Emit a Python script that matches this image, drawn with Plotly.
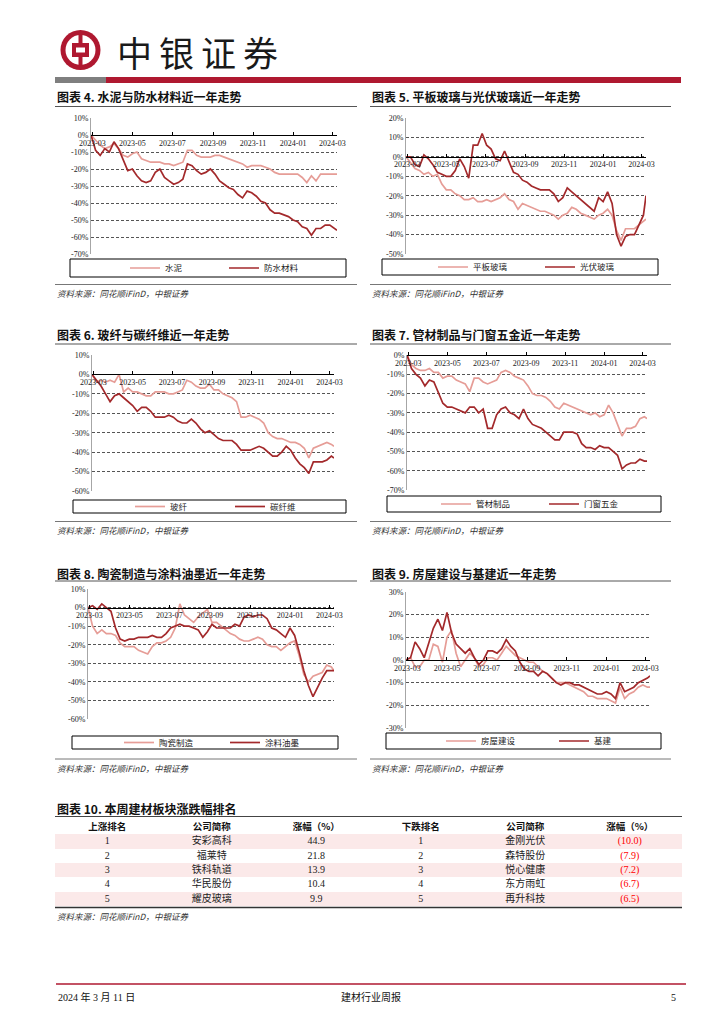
import pandas as pd
import plotly.graph_objects as go

# page is drawn in the 724x1024 reference pixel frame; the browser body adds an 8px margin
OFF = 8
W, H = 724 - OFF, 1024 - OFF
def px(x): return (x - OFF) / W
def py(y): return 1 - (y - OFF) / H

# ---------------- data ----------------
dates = list(pd.date_range('2023-02-27', periods=54, freq='7D').strftime('%Y-%m-%d')) + ['2024-03-08']
x_tickvals = ['2023-03-01', '2023-05-01', '2023-07-01', '2023-09-01', '2023-11-01', '2024-01-01', '2024-03-01']
x_ticklabels = ['2023-03', '2023-05', '2023-07', '2023-09', '2023-11', '2024-01', '2024-03']

cement = [0, -3, -6, -8, -7, -5, -8, -12, -13, -11,
          -10, -14, -15, -16, -16, -16, -17, -17, -18, -17,
          -16, -9, -9, -12, -13, -13, -13, -12, -12, -13,
          -14, -15, -16, -17, -19, -18, -18, -18, -19, -20,
          -22, -23, -23, -23, -23, -23, -25, -28, -24, -27,
          -23, -23, -23, -23, -23]
waterproof = [0, -9, -12, -8, -10, -4, -8, -15, -21, -20,
              -24, -27, -28, -27, -22, -20, -25, -27, -29, -28,
              -26, -17, -18, -21, -23, -22, -20, -23, -27, -29,
              -31, -32, -35, -37, -33, -34, -36, -39, -40, -44,
              -46, -46, -47, -48, -50, -51, -54, -55, -59, -55,
              -55, -53, -53, -55, -56]
flat_glass = [0, -3, -6, -7, -9, -8, -10, -9, -14, -17,
              -17, -19, -20, -22, -22, -21, -23, -23, -22, -23,
              -22, -21, -19, -22, -23, -27, -24, -25, -26, -27,
              -28, -28, -29, -30, -32, -30, -29, -26, -27, -29,
              -30, -31, -32, -30, -29, -27, -30, -38, -43, -37,
              -37, -37, -35, -33, -32]
pv_glass = [0, 0, -4, -5, 1, -1, -4, -8, -9, -10,
            -10, -7, -1, -5, -11, 6, 6, 12, 6, 4,
            -1, -2, 3, -3, -8, -9, -12, -13, -15, -16,
            -17, -17, -17, -19, -23, -21, -16, -18, -20, -22,
            -24, -26, -28, -21, -23, -18, -24, -40, -46, -41,
            -40, -40, -35, -30, -20]
glass_fiber = [0, -4, -3, -4, -3, -4, 0, -9, -7, -9,
               -9, -10, -11, -11, -9, -9, -9, -10, -10, -9,
               -8, -3, -4, -6, -7, -7, -5, -8, -8, -10,
               -11, -12, -14, -22, -22, -21, -22, -23, -25, -30,
               -32, -33, -33, -34, -35, -35, -36, -38, -43, -38,
               -37, -36, -35, -36, -37]
carbon_fiber = [0, -3, -6, -10, -14, -11, -10, -12, -14, -16,
                -19, -17, -17, -19, -22, -22, -22, -21, -22, -24,
                -25, -25, -23, -25, -28, -30, -29, -31, -33, -34,
                -34, -34, -36, -39, -39, -39, -38, -37, -38, -40,
                -42, -42, -40, -37, -39, -43, -46, -48, -51, -45,
                -45, -45, -44, -42, -43]
pipe = [0, -5, -7, -8, -8, -7, -9, -9, -12, -11,
        -11, -13, -14, -15, -19, -12, -12, -14, -15, -14,
        -13, -9, -8, -9, -11, -12, -13, -16, -20, -21,
        -21, -22, -24, -27, -28, -25, -26, -27, -28, -29,
        -30, -31, -30, -32, -31, -26, -30, -36, -42, -38,
        -38, -37, -33, -32, -33]
hardware = [0, -7, -10, -12, -16, -13, -14, -20, -25, -27,
            -27, -28, -29, -30, -27, -27, -30, -28, -38, -38,
            -31, -28, -27, -30, -31, -33, -28, -33, -36, -37,
            -38, -40, -42, -44, -44, -40, -40, -40, -41, -46,
            -48, -48, -49, -47, -48, -48, -50, -52, -59, -57,
            -56, -56, -54, -55, -55]
ceramic = [0, -10, -14, -12, -14, -14, -15, -19, -21, -21,
           -21, -23, -24, -25, -21, -19, -19, -18, -16, -11,
           2, -4, -6, -8, -5, -3, -1, -8, -8, -10,
           -12, -14, -15, -17, -18, -18, -17, -16, -17, -20,
           -21, -21, -23, -21, -19, -18, -26, -36, -40, -37,
           -36, -35, -31, -32, -34]
coating = [0, 1, -1, 2, 0, -2, -11, -17, -18, -17,
           -17, -16, -16, -16, -15, -16, -16, -14, -11, -10,
           -9, -10, -10, -11, -12, -16, -13, -9, -11, -11,
           -11, -11, -9, -10, -5, -4, -5, -4, -4, -6,
           -11, -12, -14, -16, -11, -15, -24, -34, -42, -48,
           -43, -38, -34, -34, -34]
housing = [0, 1, -3, -3, 0, 0, 7, 6, -1, 10,
           13, 3, -3, 0, 3, 1, -3, -2, 1, 1,
           0, 3, 6, 4, 2, 1, 0, -1, -1, -3,
           -5, -6, -8, -10, -10, -10, -11, -12, -13, -14,
           -16, -16, -17, -17, -17, -18, -19, -12, -17, -15,
           -14, -12, -11, -12, -12]
infra = [0, 1, 8, 5, 1, 7, 14, 18, 13, 21,
         12, 7, 5, 3, 5, 1, -2, 0, 4, 4,
         3, 5, 9, 6, 4, -1, -4, -5, -5, -7,
         -5, -6, -8, -10, -11, -10, -10, -11, -11, -12,
         -13, -14, -15, -15, -14, -15, -17, -10, -14, -13,
         -12, -10, -9, -8, -7]

chart_titles = ['图表 4. 水泥与防水材料近一年走势', '图表 5. 平板玻璃与光伏玻璃近一年走势',
                '图表 6. 玻纤与碳纤维近一年走势', '图表 7. 管材制品与门窗五金近一年走势',
                '图表 8. 陶瓷制造与涂料油墨近一年走势', '图表 9. 房屋建设与基建近一年走势']
series_names = [('水泥', '防水材料'), ('平板玻璃', '光伏玻璃'), ('玻纤', '碳纤维'),
                ('管材制品', '门窗五金'), ('陶瓷制造', '涂料油墨'), ('房屋建设', '基建')]
series_data = [(cement, waterproof), (flat_glass, pv_glass), (glass_fiber, carbon_fiber),
               (pipe, hardware), (ceramic, coating), (housing, infra)]
y_ranges = [(-70, 10), (-50, 20), (-60, 10), (-70, 0), (-60, 10), (-30, 30)]
source_text = '资料来源：同花顺iFinD，中银证券'

table_title = '图表 10. 本周建材板块涨跌幅排名'
table_headers = ['上涨排名', '公司简称', '涨幅（%）', '下跌排名', '公司简称', '涨幅（%）']
up_rank = [1, 2, 3, 4, 5]
up_name = ['安彩高科', '福莱特', '铁科轨道', '华民股份', '耀皮玻璃']
up_pct = [44.9, 21.8, 13.9, 10.4, 9.9]
down_rank = [1, 2, 3, 4, 5]
down_name = ['金刚光伏', '森特股份', '悦心健康', '东方雨虹', '再升科技']
down_pct = [-10.0, -7.9, -7.2, -6.7, -6.5]

brand = '中银证券'
footer_date = '2024 年 3 月 11 日'
footer_title = '建材行业周报'
page_no = '5'

# ---------------- layout geometry ----------------
LIGHT = '#E69D97'
DARK = '#A3292B'
RED = '#AF1830'
CJK = 'Noto Sans CJK SC'
SERIF = 'Liberation Serif, Noto Sans CJK SC'

boxes = [(91, 337, 118, 254), (406, 646, 118, 254),
         (92, 334, 355, 491), (407, 647, 355, 490),
         (88, 334, 589, 719), (406, 650, 592, 728)]
leg_boxes = [(70, 346, 259, 277), (382, 658, 259, 275),
             (73, 346, 500, 513), (387, 661, 496, 512),
             (72, 338, 736, 749), (386, 661, 733, 749)]
leg_items = [(126, 99), (434, 107), (131, 100), (437, 108), (120, 106), (442, 113)]
title_y = [97, 97, 334, 334, 573, 573]
title_line_y = [106.5, 106.5, 344, 344, 581, 581]
src_line_y = [284.5, 284.5, 521.5, 521.5, 759, 759]
src_y = [293, 293, 530, 530, 768, 768]
col_x = [(55, 357), (370, 671)] * 3

fig = go.Figure()
layout = dict(template='none', width=W, height=H, margin=dict(l=0, r=0, t=0, b=0, pad=0, autoexpand=False),
              paper_bgcolor='white', plot_bgcolor='rgba(0,0,0,0)', showlegend=True,
              font=dict(family=CJK, color='#222'))
shapes = []
annotations = []

def hline(x0, x1, y, color, width):
    shapes.append(dict(type='line', xref='paper', yref='paper', x0=px(x0), x1=px(x1),
                       y0=py(y), y1=py(y), line=dict(color=color, width=width), layer='above'))

def text(x, y, s, size, family=CJK, color='#111', anchor='left', weight='normal', style='normal'):
    annotations.append(dict(xref='paper', yref='paper', x=px(x), y=py(y), text=s, showarrow=False,
                            xanchor=anchor, yanchor='middle',
                            font=dict(family=family, size=size, color=color, weight=weight, style=style)))

ENTRY_CONST = 45
for k in range(6):
    n = '' if k == 0 else str(k + 1)
    l, r, t, b = boxes[k]
    ymin, ymax = y_ranges[k]
    zero_px = t + (ymax - 0) / (ymax - ymin) * (b - t)
    legname = 'legend' + n
    for j, (nm, vals, col) in enumerate([(series_names[k][0], series_data[k][0], LIGHT),
                                          (series_names[k][1], series_data[k][1], DARK)]):
        fig.add_trace(go.Scatter(x=dates, y=vals, name=nm, mode='lines',
                                 line=dict(color=col, width=1.7),
                                 xaxis='x' + n, yaxis='y' + n, legend=legname,
                                 hoverinfo='skip'))
    yt = list(range(ymin, ymax + 1, 10))
    layout['xaxis' + n] = dict(domain=[px(l), px(r)], anchor='free', position=py(zero_px),
                               type='date', range=[dates[0], dates[-1]], automargin=False,
                               tickvals=x_tickvals, ticktext=x_ticklabels,
                               ticks='inside', ticklen=3, tickcolor='#000', tickwidth=1,
                               showline=True, linecolor='#000', linewidth=1, showgrid=False,
                               zeroline=False, fixedrange=True,
                               tickfont=dict(family='Liberation Serif', size=8, color='#222'))
    layout['yaxis' + n] = dict(domain=[py(b), py(t)], anchor='x' + n, range=[ymin, ymax],
                               automargin=False, fixedrange=True,
                               tickvals=yt, ticktext=[f'{v}%' for v in yt],
                               showline=True, linecolor='#A6A6A6', linewidth=1,
                               showgrid=True, gridcolor='#555555', gridwidth=1, griddash='3px,2px',
                               zeroline=False, ticks='',
                               tickfont=dict(family='Liberation Serif', size=8, color='#222'))
    lx0, lx1, ly0, ly1 = leg_boxes[k]
    shapes.append(dict(type='rect', xref='paper', yref='paper', x0=px(lx0), x1=px(lx1),
                       y0=py(ly1), y1=py(ly0), line=dict(color='#000', width=1)))
    istart, step = leg_items[k]
    layout[legname] = dict(x=px(istart - 1), y=py((ly0 + ly1) / 2), xanchor='left', yanchor='middle',
                           orientation='h', bgcolor='rgba(0,0,0,0)', borderwidth=0,
                           entrywidth=step - ENTRY_CONST, entrywidthmode='pixels',
                           font=dict(family=CJK, size=8.5, color='#222'))
    cx0, cx1 = col_x[k]
    text(cx0, title_y[k], chart_titles[k], 12, weight='bold', color='#111')
    hline(cx0, cx1, title_line_y[k], '#555', 1)
    hline(cx0, cx1, src_line_y[k], '#777', 1)
    text(cx0, src_y[k], source_text, 8.5, color='#333', style='italic')

# ---------------- table (drawn on its own categorical axes) ----------------
text(55, 808, table_title, 12, weight='bold')
hline(55, 682, 816.5, '#444', 1.2)
hline(55, 682, 907.4, '#333', 1.5)
text(55, 916, source_text, 8.5, color='#333', style='italic')
PINK = '#FBE9E9'
n_rows = len(up_rank)
n_cols = len(table_headers)
row_idx = list(range(n_rows))
band_z = [[0] * n_cols] + [[1 - (i % 2)] * n_cols for i in row_idx]
fig.add_trace(go.Heatmap(z=band_z, x=list(range(n_cols)), y=[-1] + row_idx,
                         colorscale=[[0, 'white'], [1, PINK]], zmin=0, zmax=1, showscale=False,
                         xaxis='x7', yaxis='y7', hoverinfo='skip', showlegend=False))
columns = [[str(v) for v in up_rank], up_name, [f'{v:.1f}' for v in up_pct],
           [str(v) for v in down_rank], down_name, [f'({abs(v):.1f})' for v in down_pct]]
col_colors = ['#222'] * 5 + ['#FF0000']
for c, vals in enumerate(columns):
    fig.add_trace(go.Scatter(x=[c] * n_rows, y=row_idx, text=vals, mode='text',
                             textfont=dict(family=SERIF, size=10, color=col_colors[c]),
                             xaxis='x7', yaxis='y7', hoverinfo='skip', showlegend=False))
fig.add_trace(go.Scatter(x=list(range(n_cols)), y=[-1] * n_cols,
                         text=[f'<b>{h}</b>' for h in table_headers], mode='text',
                         textfont=dict(family=CJK, size=9.5, color='#111'),
                         xaxis='x7', yaxis='y7', hoverinfo='skip', showlegend=False))
layout['xaxis7'] = dict(domain=[px(55), px(682)], range=[-0.5, n_cols - 0.5], anchor='y7',
                        visible=False, fixedrange=True, automargin=False)
layout['yaxis7'] = dict(domain=[py(906.5), py(820.1)], range=[n_rows - 0.5, -1.5], anchor='x7',
                        visible=False, fixedrange=True, automargin=False)

# ---------------- page header / footer ----------------
shapes.append(dict(type='rect', xref='paper', yref='paper', x0=px(55), x1=px(106), y0=py(83), y1=py(77),
                   fillcolor='#7F7F7F', line=dict(width=0)))
shapes.append(dict(type='rect', xref='paper', yref='paper', x0=px(106), x1=px(681), y0=py(83), y1=py(77),
                   fillcolor=RED, line=dict(width=0)))
shapes.append(dict(type='circle', xref='paper', yref='paper', x0=px(60.5), x1=px(100.5), y0=py(70), y1=py(30),
                   fillcolor=RED, line=dict(width=0)))
shapes.append(dict(type='circle', xref='paper', yref='paper', x0=px(65.5), x1=px(95.5), y0=py(65), y1=py(35),
                   fillcolor='white', line=dict(width=0)))
shapes.append(dict(type='rect', xref='paper', yref='paper', x0=px(78.5), x1=px(82.5), y0=py(66), y1=py(34),
                   fillcolor=RED, line=dict(width=0)))
shapes.append(dict(type='rect', xref='paper', yref='paper', x0=px(72), x1=px(89), y0=py(57), y1=py(43),
                   fillcolor=RED, line=dict(width=0)))
shapes.append(dict(type='rect', xref='paper', yref='paper', x0=px(76), x1=px(85), y0=py(52.5), y1=py(47.5),
                   fillcolor='white', line=dict(width=0)))
text(115, 51, '\u2009'.join(brand), 35, color='#1a1a1a')

hline(56, 686, 984, RED, 1.5)
text(56, 997, footer_date, 10, family=SERIF, color='#111')
text(371, 997, footer_title, 10, family=SERIF, color='#111', anchor='center')
text(678, 997, page_no, 10, family=SERIF, color='#111', anchor='right')

layout['shapes'] = shapes
layout['annotations'] = annotations
fig.update_layout(**layout)
fig.write_html('out.html')
